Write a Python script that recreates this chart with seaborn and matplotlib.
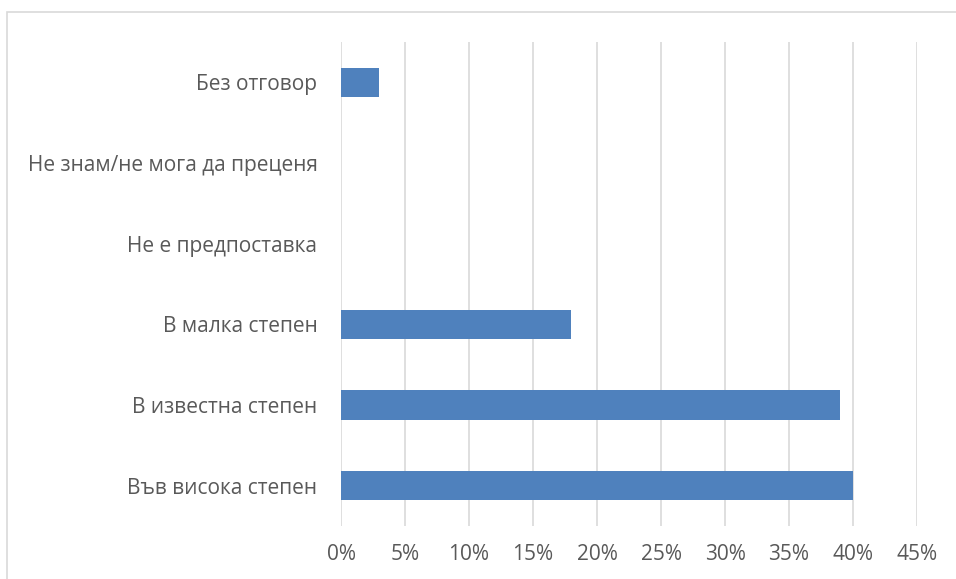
import matplotlib.pyplot as plt
import pandas as pd
import seaborn as sns
from matplotlib.patches import Rectangle
from matplotlib.ticker import FuncFormatter, MultipleLocator

# answers, listed top to bottom as in the chart
categories = [
    "Без отговор",
    "Не знам/не мога да преценя",
    "Не е предпоставка",
    "В малка степен",
    "В известна степен",
    "Във висока степен",
]
shares = [3, 0, 0, 18, 39, 40]

BAR = "#4f81bd"
GRID = "#d9d9d9"
TEXT = "#595959"

sns.set_theme(style="white")
plt.rcParams["font.family"] = ["Open Sans", "DejaVu Sans"]

df = pd.DataFrame({"answer": categories, "share": shares})

fig = plt.figure(figsize=(9.56, 5.79), dpi=100)
ax = fig.add_axes([341 / 956, 53 / 579, 576 / 956, 484 / 579])

sns.barplot(data=df, x="share", y="answer", color=BAR, width=0.36,
            saturation=1, linewidth=0, ax=ax)

ax.set_xlim(0, 45)
ax.xaxis.set_major_locator(MultipleLocator(5))
ax.xaxis.set_major_formatter(FuncFormatter(lambda v, _: f"{v:.0f}%"))
ax.grid(axis="x", color=GRID, linewidth=1.2)
ax.set_axisbelow(True)
for side in ax.spines.values():
    side.set_visible(False)
ax.set_xlabel("")
ax.set_ylabel("")
ax.tick_params(axis="both", length=0, colors=TEXT, labelsize=15)
ax.tick_params(axis="y", pad=17)
ax.tick_params(axis="x", pad=13)

# chart frame (cut off on the right and bottom in the original)
fig.patches.append(Rectangle((7 / 956, -0.1), 1.2, (579 - 12) / 579 + 0.1,
                             transform=fig.transFigure, fill=False,
                             edgecolor=GRID, linewidth=1.2))

fig.savefig("out.png", dpi=100)
